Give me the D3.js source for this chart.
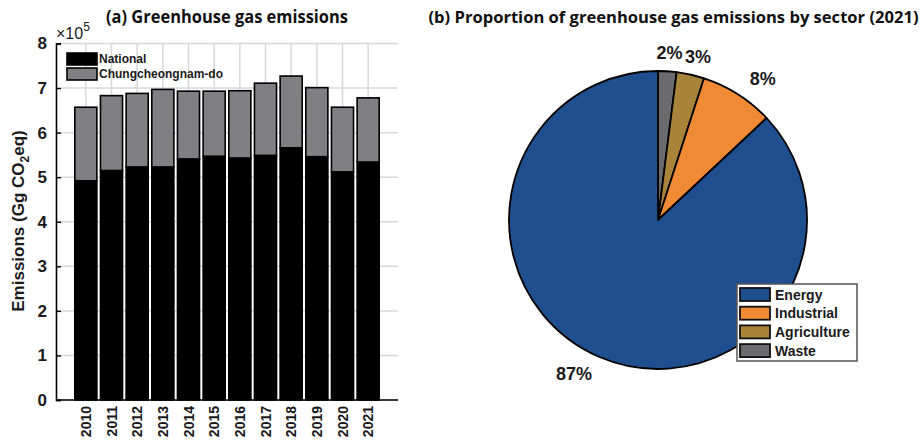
<!DOCTYPE html>
<html>
<head>
<meta charset="utf-8">
<script src="https://cdn.jsdelivr.net/npm/d3@7"></script>
<style>
  html, body { margin: 0; padding: 0; background: #fff; }
  svg { display: block; }
  .title { font-family: "Open Sans", "Noto Sans", sans-serif; font-weight: 700; fill: #111; }
  .arial { font-family: "Liberation Sans", Arial, sans-serif; font-weight: 700; fill: #1a1a1a; }
</style>
</head>
<body>
<svg id="chart" width="923" height="446"></svg>
<script>
// Annual greenhouse gas emissions (Gg CO2eq), stacked
const years = ["2010","2011","2012","2013","2014","2015","2016","2017","2018","2019","2020","2021"];
const national = [492000, 515000, 523000, 523000, 541000, 547000, 543000, 549000, 566000, 546000, 512000, 534000];
const chungnam = [165000, 168000, 165000, 174000, 152000, 146000, 151000, 162000, 161000, 155000, 145000, 144000];
const yTicks = [0, 1e5, 2e5, 3e5, 4e5, 5e5, 6e5, 7e5, 8e5];

// Sector shares for 2021 (%)
const sectors = ["Energy", "Industrial", "Agriculture", "Waste"];
const shares = [87, 8, 3, 2];
const sectorColors = ["#1f4f8f", "#f08a35", "#a8843a", "#6b6b6e"];

const svg = d3.select("#chart");

// ---------- (a) stacked bars ----------
const plot = { left: 56, right: 398, top: 43.5, bottom: 400 };
const y = d3.scaleLinear().domain([0, 8e5]).range([plot.bottom, plot.top]);
const x = d3.scaleBand().domain(years).range([73, 381]).paddingInner(0.14).paddingOuter(0.07);

const gA = svg.append("g");

// grid
gA.append("g").selectAll("line.h").data(yTicks).join("line")
  .attr("x1", plot.left).attr("x2", plot.right)
  .attr("y1", d => y(d)).attr("y2", d => y(d))
  .attr("stroke", "#d8d8d8").attr("stroke-width", 1.5);
gA.append("g").selectAll("line.v").data(years).join("line")
  .attr("x1", d => x(d) + x.bandwidth() / 2).attr("x2", d => x(d) + x.bandwidth() / 2)
  .attr("y1", plot.top).attr("y2", plot.bottom)
  .attr("stroke", "#d8d8d8").attr("stroke-width", 1.5);

const table = years.map((yr, i) => ({ year: yr, National: national[i], Chungnam: chungnam[i] }));
const stack = d3.stack().keys(["National", "Chungnam"])(table);
const barFill = { National: "#000000", Chungnam: "#808083" };

gA.append("g").selectAll("g").data(stack).join("g")
  .attr("fill", d => barFill[d.key])
  .selectAll("rect").data(d => d).join("rect")
  .attr("x", d => x(d.data.year))
  .attr("width", x.bandwidth())
  .attr("y", d => y(d[1]))
  .attr("height", d => y(d[0]) - y(d[1]))
  .attr("stroke", "#000").attr("stroke-width", 1.6);

// axes
const yAxis = d3.axisLeft(y).tickValues(yTicks).tickSize(-5).tickPadding(9)
  .tickFormat(d => d / 1e5);
const gy = gA.append("g").attr("transform", `translate(${plot.left},0)`).call(yAxis);
gy.select(".domain").attr("stroke", "#000").attr("stroke-width", 1.6);
gy.selectAll(".tick line").attr("stroke", "#000").attr("stroke-width", 1.4);
gy.selectAll(".tick text").attr("class", "arial").style("font-size", "17px");

const xAxis = d3.axisBottom(x).tickSize(0).tickPadding(0);
const gx = gA.append("g").attr("transform", `translate(0,${plot.bottom})`).call(xAxis);
gx.select(".domain").remove();
gA.append("line").attr("x1", plot.left).attr("x2", plot.right)
  .attr("y1", plot.bottom).attr("y2", plot.bottom)
  .attr("stroke", "#000").attr("stroke-width", 1.6);
gx.selectAll(".tick text")
  .attr("class", "arial").style("font-size", "14px")
  .attr("transform", "rotate(-90)")
  .attr("text-anchor", "end")
  .attr("x", -6).attr("y", 0).attr("dy", "0.36em");

// exponent label
const expo = gA.append("text").attr("class", "arial").attr("x", 56).attr("y", 39)
  .style("font-size", "16px");
expo.append("tspan").text("\u00d7").style("font-weight", 400);
expo.append("tspan").text("10").style("font-weight", 400);
expo.append("tspan").text("5").attr("dy", -8).style("font-size", "12px").style("font-weight", 400);

// y label
const yl = gA.append("text").attr("class", "arial")
  .attr("transform", "translate(24,221) rotate(-90)")
  .attr("text-anchor", "middle").style("font-size", "17px");
yl.append("tspan").text("Emissions (Gg CO");
yl.append("tspan").text("2").attr("dy", 5).style("font-size", "12px");
yl.append("tspan").text("eq)").attr("dy", -5);

// legend
const legA = gA.append("g");
const legItems = [{ k: "National", c: "#000" }, { k: "Chungcheongnam-do", c: "#808083" }];
legItems.forEach((d, i) => {
  const yy = 53 + i * 15;
  legA.append("rect").attr("x", 67).attr("y", yy).attr("width", 30).attr("height", 12)
    .attr("fill", d.c).attr("stroke", "#000").attr("stroke-width", 1.6);
  legA.append("text").attr("class", "arial").attr("x", 99).attr("y", yy + 6)
    .attr("dy", "0.36em").style("font-size", "12px").text(d.k);
});

gA.append("text").attr("class", "title").attr("x", 227).attr("y", 23)
  .attr("text-anchor", "middle").style("font-size", "17px")
  .attr("textLength", 242).attr("lengthAdjust", "spacingAndGlyphs")
  .text("(a) Greenhouse gas emissions");

// ---------- (b) pie ----------
const cx = 658, cy = 220, r = 149;
const pieData = sectors.map((s, i) => ({ name: s, value: shares[i], color: sectorColors[i] })).reverse();
const arcs = d3.pie().sort(null).value(d => d.value)(pieData);
const arc = d3.arc().innerRadius(0).outerRadius(r);

const gB = svg.append("g").attr("transform", `translate(${cx},${cy})`);
gB.selectAll("path").data(arcs).join("path")
  .attr("d", arc).attr("fill", d => d.data.color)
  .attr("stroke", "#000").attr("stroke-width", 1.8).attr("stroke-linejoin", "round");

gB.selectAll("text.pl").data(arcs).join("text")
  .attr("class", "arial")
  .style("font-size", "18px")
  .each(function(d) {
    const a = (d.startAngle + d.endAngle) / 2;
    const px = Math.sin(a) * r * 1.1, py = -Math.cos(a) * r * 1.1;
    const s = Math.sin(a);
    const anchor = s > 0.3 ? "start" : (s < -0.3 ? "end" : "middle");
    const dx = anchor === "start" ? 4 : (anchor === "end" ? -1 : s * 20);
    d3.select(this).attr("x", px + dx).attr("y", py + (py < 0 ? 3 : 10))
      .attr("text-anchor", anchor)
      .text(d.data.value + "%");
  });

// legend
const legB = svg.append("g");
legB.append("rect").attr("x", 737).attr("y", 284).attr("width", 120).attr("height", 77)
  .attr("fill", "#fff").attr("stroke", "#555").attr("stroke-width", 1.5);
sectors.forEach((s, i) => {
  const yy = 288 + i * 18.7;
  legB.append("rect").attr("x", 740).attr("y", yy).attr("width", 30).attr("height", 13)
    .attr("fill", sectorColors[i]).attr("stroke", "#111").attr("stroke-width", 1.8);
  legB.append("text").attr("class", "arial").attr("x", 775).attr("y", yy + 6.5)
    .attr("dy", "0.36em").style("font-size", "14px").text(s);
});

svg.append("text").attr("class", "title").attr("x", 673.5).attr("y", 23)
  .attr("text-anchor", "middle").style("font-size", "16.3px")
  .attr("textLength", 490).attr("lengthAdjust", "spacingAndGlyphs")
  .text("(b) Proportion of greenhouse gas emissions by sector (2021)");
</script>
</body>
</html>
